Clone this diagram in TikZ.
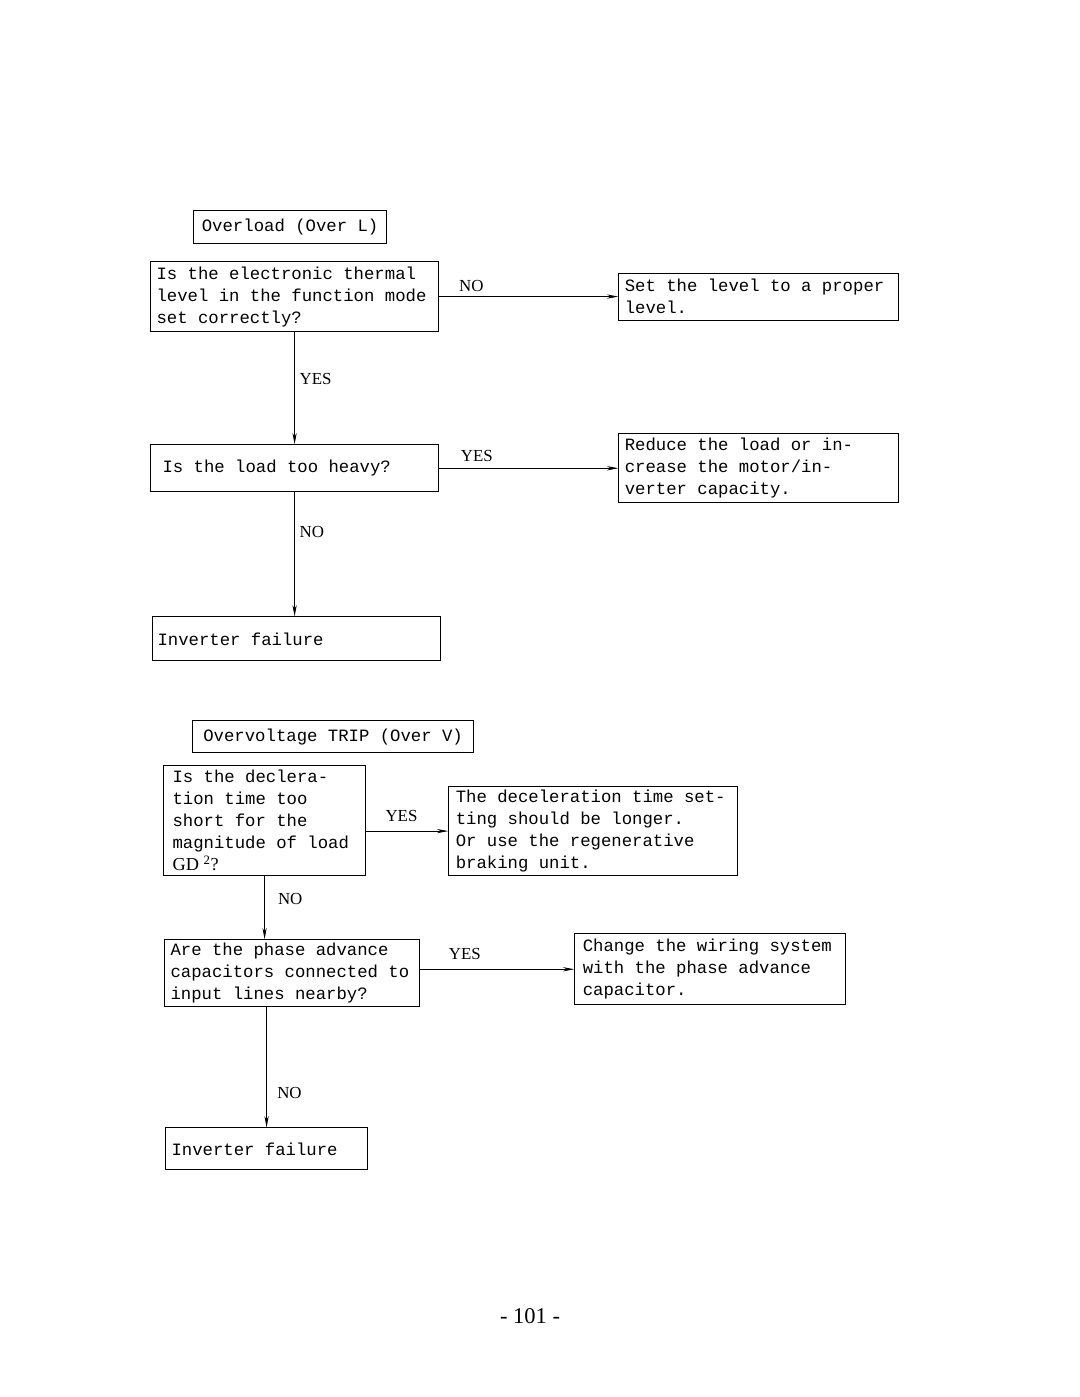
\documentclass[tikz,border=0pt]{standalone}
\usepackage{fontspec}
\setmainfont{Liberation Serif}
\setmonofont{Liberation Mono}
\usepackage{tikz}
\usetikzlibrary{arrows.meta,positioning}
\newcommand{\boxfont}{\fontsize{12.3}{15.65}\selectfont\ttfamily}
\newcommand{\lblfont}{\fontsize{12}{13}\selectfont\rmfamily}
\tikzset{
	flowbox/.style={
		rectangle,
		draw=black,
		line width=0.8pt,
		align=flush left,
		inner xsep=0.15cm,
		inner ysep=0pt,
		font=\boxfont,
	},
	titlebox/.style={
		rectangle,
		draw=black,
		line width=0.8pt,
		inner sep=0pt,
		font=\boxfont,
	},
	answer/.style={
		font=\lblfont,
	},
}

\begin{document}
\begin{tikzpicture}[x=0.025cm, y=-0.025cm, >={Stealth[length=8pt,width=3pt]}, line width=0.5pt]
	\useasboundingbox (0,0) rectangle (1080,1397);
	% overload
	\node [titlebox, minimum width=4.825cm, minimum height=0.825cm, anchor=north west] (overL) at (193,210) {Overload (Over L)};
	\node [flowbox, text width=6.9cm, minimum height=1.75cm, anchor=north west] (thermal) at (150,261) {Is the electronic thermal\\level in the function mode\\set correctly?};
	\node [flowbox, text width=6.7cm, minimum height=1.175cm] (setlevel) [right=4.475cm of thermal] {Set the level to a proper\\level.};
	\node [flowbox, inner xsep=0.3cm, text width=6.6cm, minimum height=1.175cm] (heavy) [below=2.8cm of thermal] {Is the load too heavy?};
	\node [flowbox, text width=6.7cm, minimum height=1.725cm] (reduce) [right=4.475cm of heavy] {Reduce the load or in-\\crease the motor/in-\\verter capacity.};
	\node [flowbox, inner xsep=0.125cm, text width=6.95cm, minimum height=1.1cm] (failL) [below=3.1cm of heavy, xshift=0.05cm] {Inverter failure};

	% overvoltage
	\node [titlebox, minimum width=7.025cm, minimum height=0.8cm, anchor=north west] (overV) at (192,720) {Overvoltage TRIP (Over V)};
	\node [flowbox, inner xsep=0.225cm, text width=4.6cm, minimum height=2.75cm, anchor=north west] (decel) at (163,765) {Is the declera-\\tion time too\\short for the\\magnitude of load\\{\rmfamily\fontsize{13}{13}\selectfont GD \textsuperscript{2}?}};
	\node [flowbox, inner xsep=0.175cm, text width=6.875cm, minimum height=2.225cm] (longer) [right=2.05cm of decel, yshift=-0.2625cm] {The deceleration time set-\\ting should be longer.\\Or use the regenerative\\braking unit.};
	\node [flowbox, text width=6.075cm, minimum height=1.675cm] (phase) [below=1.575cm of decel.south west, anchor=north west, xshift=0.025cm] {Are the phase advance\\capacitors connected to\\input lines nearby?};
	\node [flowbox, inner xsep=0.2cm, text width=6.375cm, minimum height=1.775cm] (wiring) [right=3.85cm of phase, yshift=0.1cm] {Change the wiring system\\with the phase advance\\capacitor.};
	\node [flowbox, text width=4.75cm, minimum height=1.05cm] (failV) [below=3cm of phase.south west, anchor=north west, xshift=0.025cm] {Inverter failure};

	\node [font=\fontsize{16}{18}\selectfont] (pagenum) at (530,1316) {- 101 -};

	% arrows
	\draw [->] (thermal.east) -- node [answer, above, pos=0.18] {NO} (setlevel.west);
	\draw [->] (thermal.south) -- node [answer, right, pos=0.42] {YES} (heavy.north);
	\draw [->] (heavy.east) -- node [answer, above=1pt, pos=0.21] {YES} (reduce.west);
	\draw [->] (heavy.south) -- node [answer, right, pos=0.32] {NO} (heavy.south |- failL.north);
	\draw [->] (decel.east |- longer.west) -- node [answer, above=3pt, pos=0.43] {YES} (longer.west);
	\draw [->] (decel.south) -- node [answer, right=6pt, pos=0.37] {NO} (decel.south |- phase.north);
	\draw [->] (wiring.west -| phase.east) -- node [answer, above=3pt, pos=0.29] {YES} (wiring.west);
	\draw [->] (failV.north |- phase.south) -- node [answer, right=4pt, pos=0.71] {NO} (failV.north);
\end{tikzpicture}
\end{document}
